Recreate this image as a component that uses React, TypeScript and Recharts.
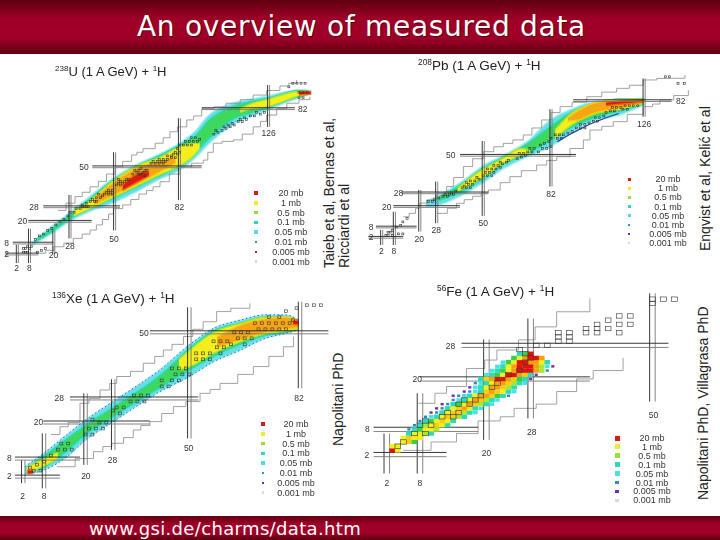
import { Area, ComposedChart, Line, ReferenceDot, ReferenceLine, Scatter, XAxis, YAxis } from 'recharts';

const COLORS = {
  cyan: '#63dfe6',
  green: '#3ed85e',
  lime: '#b8e63a',
  yellow: '#f4ee1c',
  orange: '#f5a612',
  red: '#dd1a12',
};
// soft rim drawn around each band so the colours fade into one another
const RIMS: Record<string, string> = {
  [COLORS.cyan]: '#a6eef0',
  [COLORS.green]: '#2ed8a8',
  [COLORS.yellow]: '#a8e63a',
  [COLORS.orange]: '#f8cc10',
  [COLORS.red]: '#ee6a10',
};

const LEGEND_LABELS = ['20 mb', '1 mb', '0.5 mb', '0.1 mb', '0.05 mb', '0.01 mb', '0.005 mb', '0.001 mb'];
const LEGEND_COLORS = ['#d81c14', '#e6ee30', '#9adf3c', '#2fd6c0', '#50dce8', '#2f8fc0', '#6a2fb0', '#d8d8d8'];

// band rows are [N, Z low, Z high]
const U_CYAN = [[9, 6.5, 8], [18, 12.5, 16.5], [28, 20, 25], [38, 25.5, 34], [49, 30, 43.5], [62, 37, 52], [72, 43, 57], [82, 48, 63], [90, 55, 70], [96, 62, 78], [108, 73, 85], [118, 78, 87.5], [125, 81, 89], [135, 85.5, 91.5], [141, 88, 92.5], [147, 90, 92]];
const U_GREEN = [[12, 9.5, 10.5], [20, 15, 16.5], [28, 21.5, 23.5], [38, 27, 32.5], [49, 32.5, 42.5], [62, 39.5, 51], [72, 45, 56], [82, 50.5, 62], [90, 58, 67], [96, 65, 75], [108, 76, 83], [118, 80, 86], [125, 82.5, 87.5], [141, 88.5, 92], [146, 90, 91.5]];
const U_YELLOW = [[30, 23, 26], [35, 25.5, 29], [49, 33, 42], [62, 40, 51], [72, 45.5, 55], [82, 50.5, 61], [88, 55, 63], [92, 60, 63]];
const U_YELLOW_2 = [[112, 80, 82], [118, 82, 85], [125, 83, 87], [141, 89, 91.5], [146, 90, 91.5]];
const U_ORANGE = [[40, 29, 33], [49, 34, 41], [62, 41, 50], [72, 47, 53], [80, 52, 56]];
const U_RED = [[54, 37, 40], [58, 39.5, 44], [62, 42, 46.5], [67, 45, 47.5]];
const U_RED_2 = [[141, 89.5, 91.5], [147, 90, 91.5]];
const U_UPPER = [[22, 26], [26, 30], [30.5, 33.6], [34, 36], [37.9, 39], [42, 42], [46, 46], [50.2, 50], [54, 53], [58.4, 56.5], [61, 58], [64, 60], [70, 63], [74, 66], [77.3, 69.3], [81, 72], [85.6, 75.8], [89, 78], [93, 82], [99, 83], [105, 85], [112, 87], [118.4, 89.5], [125, 92], [131.6, 94.5], [136, 96], [139.8, 97.8]];
const U_LOWER = [[11.5, 2.4], [16, 4], [20, 6], [25, 8], [29.6, 10.6], [34, 13], [37.9, 15.2], [41, 18], [44, 21], [47, 24], [49.4, 27], [54, 29], [58, 32], [62, 35], [65.8, 37], [69, 39], [72.4, 41.8], [77, 46], [82.3, 50], [88, 52], [93.8, 53.7], [96, 58], [98.7, 63], [103, 64], [108.6, 64.8], [113, 68], [118.4, 72], [122, 75], [125, 78.5], [130, 82], [135, 85], [141, 87], [146.4, 88.6]];
const U_HOLLOW = [[5, 3], [6, 3], [7, 3], [5, 5], [6, 5], [8, 5], [7, 6], [9, 6], [12, 3], [14, 4], [16, 5], [11, 10], [13, 12], [15, 13], [17, 15], [19, 16], [21, 18], [23, 20], [25, 21], [27, 23], [28, 25], [30, 25], [31, 27], [33, 27], [34, 28], [35, 28], [36, 28], [37, 28], [34, 29], [36, 30], [38, 31], [40, 31], [41, 31], [39, 32], [41, 33], [43, 33], [44, 34], [42, 35], [45, 35], [47, 35], [46, 36], [48, 36], [47, 37], [49, 37], [49, 35], [51, 40], [53, 40], [52, 41], [54, 41], [53, 42], [55, 42], [56, 43], [57, 43], [52, 43], [59, 46], [61, 47], [62, 46], [63, 46], [64, 47], [60, 48], [62, 48], [65, 48], [66, 48], [63, 49], [65, 45], [68, 52], [70, 52], [72, 52], [74, 52], [69, 53], [71, 53], [73, 53], [75, 53], [72, 54], [74, 54], [76, 54], [78, 55], [76, 56], [78, 56], [80, 55], [79, 57], [81, 57], [80, 58], [82, 58], [81, 60], [82, 62], [84, 62], [86, 62], [88, 62], [85, 64], [87, 64], [89, 64], [91, 64], [92, 65], [90, 66], [88, 66], [99, 68], [101, 69], [100, 70], [103, 70], [105, 71], [104, 72], [107, 72], [106, 73], [109, 73], [108, 74], [111, 75], [113, 75], [112, 76], [115, 76], [114, 77], [117, 78], [119, 78], [122, 79], [124, 80], [120, 80], [138, 96], [140, 96], [142, 96], [144, 96], [136, 94], [141, 91], [143, 91], [145, 91], [141, 88], [143, 88]];
const U_MAGIC_N = [[2, -3, 7], [8, -3, 16], [20, 2, 15], [28, 10.6, 34.5], [50, 15, 58], [82, 31.7, 76.7], [126, 72, 95]];
const U_MAGIC_Z = [[2, -4, 12.4], [8, -0.3, 19.8], [20, 7.4, 38.7], [28, 14.8, 52.7], [50, 39, 93], [82, 93, 139]];
const U_LABELS: [number, number, string][] = [[142.8, 82, '82'], [126, 68.4, '126'], [82, 27.7, '82'], [34.9, 50, '50'], [49.7, 10.4, '50'], [10.2, 28, '28'], [28, 6.4, '28'], [4.6, 20.2, '20'], [19.8, 1.4, '20'], [-3.3, 7.9, '8'], [-3.3, 2, '2'], [1.7, -5.5, '2'], [7.9, -5.5, '8']];

const PB_CYAN = [[23, 20, 23], [29.6, 21, 27], [39, 26, 34], [50, 34, 44], [59.5, 42, 50], [70.5, 49, 58], [82, 55, 71], [92.5, 64, 77.5], [102, 70, 81.5], [114.6, 73.6, 83], [126, 79.5, 83.5]];
const PB_GREEN = [[29, 23.5, 25.5], [39, 28.5, 32.5], [50, 36.5, 42.5], [59, 44.5, 48.5], [70, 50.5, 56], [82, 59, 67], [92, 66.5, 75.5], [102, 72, 80], [115, 76, 83], [126, 80, 83]];
const PB_YELLOW = [[38, 29, 31], [50, 37, 42], [59, 45, 48], [68, 50, 54], [72, 51.5, 53]];
const PB_YELLOW_2 = [[84, 60, 65], [92, 68, 75], [102, 74, 80], [115, 77, 82.5], [126, 80.5, 83]];
const PB_ORANGE = [[90, 70, 72], [96, 71, 77], [102, 74.5, 80.5], [115, 77.5, 82.5], [126, 81, 82.5]];
const PB_RED = [[108, 79, 81], [116, 80, 82], [126, 81, 82.5]];
const PB_EDGE = [[85, 58], [92, 63], [100, 68], [108, 72], [114, 74.5]];
const PB_UPPER = [[12.2, 14], [15, 16], [18, 19], [20, 22], [23.3, 23.9], [28, 28], [32.7, 31.7], [36, 37], [40.6, 43.4], [45, 48], [50, 52.1], [55, 55], [59.5, 57], [64, 59], [68.9, 61.9], [73, 66], [77.6, 70.7], [82, 75], [86.3, 78.5], [92, 81], [98.9, 84.3], [106, 87], [113, 89.2], [119, 91], [125.6, 94.1], [132, 95], [138.2, 95.1], [145.3, 97]];
const PB_LOWER = [[28, 16], [33, 19], [37.4, 21.9], [41, 24], [45, 26], [49, 28], [52.4, 29.7], [58, 34], [62.6, 37.5], [68, 41], [75.2, 44.3], [80, 47], [84.7, 49.2], [91, 54], [97.3, 59], [100.4, 64.8], [106, 67], [111.4, 69.7], [118, 74], [125.6, 78.5], [130, 80], [133.5, 82.4], [140, 85], [146.9, 88.2]];
const PB_HOLLOW = [[4, 3], [5, 3], [7, 3], [5, 5], [6, 5], [7, 6], [9, 8], [11, 9], [12, 11], [10, 4], [12, 4], [14, 13], [24, 23], [26, 23], [27, 24], [29, 25], [31, 26], [33, 26], [32, 27], [34, 27], [36, 27], [35, 28], [37, 29], [40, 31], [42, 31], [44, 31], [41, 32], [43, 33], [45, 33], [42, 34], [44, 35], [46, 35], [48, 36], [47, 37], [50, 38], [52, 38], [54, 38], [51, 40], [53, 40], [55, 40], [52, 42], [54, 42], [56, 42], [58, 43], [55, 44], [57, 44], [59, 45], [61, 46], [58, 46], [62, 47], [66, 48], [68, 49], [70, 50], [67, 51], [69, 51], [71, 52], [73, 52], [72, 54], [74, 54], [76, 52], [78, 54], [80, 54], [82, 55], [77, 56], [79, 57], [81, 58], [82, 60], [84, 62], [86, 62], [88, 62], [90, 63], [92, 64], [85, 60], [87, 60], [94, 66], [96, 66], [98, 66], [96, 68], [98, 68], [100, 69], [102, 70], [104, 70], [103, 72], [105, 72], [107, 73], [108, 75], [110, 76], [112, 76], [111, 78], [113, 78], [115, 78], [117, 79], [119, 79], [121, 79], [123, 79], [116, 77], [118, 77], [136, 96], [138, 96], [142, 92], [145, 92]];
const PB_MAGIC_N = [[2, -2.5, 6.3], [8, -2.5, 17], [20, 5.3, 29.7], [28, 10.2, 34.6], [50, 14.5, 58.4], [82, 31.7, 77], [126, 72.6, 95]];
const PB_MAGIC_Z = [[2, -4.3, 12.2], [8, -0.7, 18.5], [20, 7.5, 39], [28, 11.4, 52.4], [50, 39, 93.8], [82, 92.5, 139]];
const PB_LABELS: [number, number, string][] = [[143.3, 82, '82'], [126, 68.3, '126'], [82, 27.4, '82'], [34.6, 50, '50'], [50, 10.6, '50'], [10, 28.1, '28'], [27.8, 6.3, '28'], [4.4, 20, '20'], [19.8, 1.2, '20'], [-3, 7.9, '8'], [-3, 2, '2'], [1.8, -5.8, '2'], [7.8, -5.8, '8']];

const XE_CYAN = [[2.5, 2.9, 5.3], [8, 4.2, 9.8], [14.6, 8.6, 15.9], [20, 14.2, 20.8], [28, 20.3, 27], [33.8, 24.7, 31.4], [41.5, 30.3, 37.5], [50, 35.3, 45.8], [57, 40.2, 51.3], [64.6, 44, 54], [72, 48, 55.8], [78, 49.7, 55.8], [81.5, 50.8, 54]];
const XE_GREEN = [[5, 4, 6.5], [8, 5.2, 8.8], [14, 10, 14], [20, 16, 19], [28, 22, 25], [42, 32, 36], [50, 37.5, 44.5], [57, 42, 50.5], [64.6, 46, 53], [72, 49, 55], [78, 50, 55], [81.5, 51, 54]];
const XE_YELLOW = [[3, 3.2, 5], [8, 5.5, 8], [12, 8, 10]];
const XE_YELLOW_2 = [[47, 37.5, 41], [50, 38.5, 44], [57, 43, 50], [65, 47, 53], [72, 49.5, 55], [78, 50.5, 55], [81.5, 51, 54]];
const XE_ORANGE = [[58, 45, 48.5], [65, 47.5, 52.5], [72, 50, 54.5], [78, 51, 55], [81.5, 51.5, 54]];
const XE_RED = [[80, 52.5, 54], [81.5, 52.5, 54]];
const XE_RED_2 = [[3.2, 3, 4.2], [4.8, 3, 4.2]];
const XE_UPPER = [[10, 16], [12.6, 18.6], [15, 20], [18.4, 26.4], [21, 28], [24.2, 30.8], [27, 33], [29, 35.3], [33, 37], [36.7, 39.7], [40, 42], [42.5, 44.1], [45, 46], [48.3, 48.6], [51, 51], [54, 53.5], [57.9, 56.9], [62, 58], [67.5, 59.6]];
const XE_LOWER = [[11.7, 5.3], [17, 8], [22.3, 10.3], [25, 12], [27.6, 13.1], [31, 15], [33.8, 17.5], [36, 19], [38.6, 20.3], [42, 23], [45.4, 25.3], [49, 27], [53.1, 29.7], [56, 31], [58.9, 33], [64, 36], [68.5, 38.6], [73, 42], [77.2, 45.2], [80.1, 48.6]];
const XE_HOLLOW = [[78, 57], [81, 58], [84, 59], [86, 59], [88, 59], [69, 53], [71, 53], [73, 53], [75, 53], [77, 53], [79, 53], [70, 51], [72, 51], [74, 51], [76, 51], [78, 51], [80, 54], [73, 55], [76, 55], [63, 50], [65, 50], [67, 50], [64, 48], [66, 48], [68, 48], [62, 46], [66, 46], [57, 47], [59, 47], [61, 47], [58, 45], [60, 45], [59, 43], [56, 43], [52, 43], [54, 43], [52, 41], [54, 41], [56, 41], [45, 38], [47, 38], [49, 38], [46, 36], [48, 36], [50, 36], [45, 34], [47, 34], [42, 34], [44, 32], [42, 32], [34, 29], [36, 29], [38, 29], [35, 27], [37, 27], [33, 27], [31, 25], [29, 25], [30, 23], [28, 24], [22, 21], [24, 20], [26, 20], [21, 18], [23, 18], [25, 18], [20, 16], [22, 16], [13, 13], [15, 13], [12, 11], [14, 11], [16, 11], [10, 9], [8, 7], [6, 6], [5, 4], [7, 4], [4, 5]];
const XE_MAGIC_N = [[2, -0.2, 7.5], [8, -1.9, 16.4], [20, 5.9, 29.7], [28, 10.9, 34.4], [50, 14.7, 58.3], [82, 31.4, 60.2]];
const XE_MAGIC_Z = [[2, -0.4, 12.6], [8, -0.4, 18.4], [20, 7.8, 38.6], [28, 15.5, 52.6], [50, 38.6, 90.2]];
const XE_LABELS: [number, number, string][] = [[81.7, 28, '82'], [49.8, 11.4, '50'], [36.9, 49.9, '50'], [12.4, 28, '28'], [27.8, 7.5, '28'], [6.4, 20.1, '20'], [20.1, 2.3, '20'], [-2, 8.3, '8'], [-2, 2.2, '2'], [1.8, -4.4, '2'], [8, -4.4, '8']];

// Fe cells: one string per Z row, first letter sits at the row's start N
const FE_ROW_Z = [3, 4, 5, 6, 7, 8, 9, 10, 11, 12, 13, 14, 15, 16, 17, 18, 19, 20, 21, 22, 23, 24, 25, 26];
const FE_ROW_START = [3, 3, 5, 5, 6, 6, 7, 8, 9, 10, 11, 12, 14, 14, 16, 17, 18, 19, 20, 21, 22, 23, 25, 26];
const FE_ROW_CELLS = ['RY', 'YY', 'YAG', 'YAYY', 'TYYLT', 'BTGYYL', 'BTLYAYT', 'BTGYAYT', 'BCTYAALT', 'PBTYAALTC', 'PBTYAOYTC', 'PBTGYOALTC', 'BCTYOALTC', 'PBCTYOOAGTB', 'PBCTAOAYTC', 'PCTYOOALT', 'BCTYOOALTC', 'TAORROAGTP', 'CTGYRROATP', 'CTGYORRROLB', 'CTYORRROLCP', 'CGYRROOYT', 'GYORRO', 'TGR'];
const FE_CELL_COLORS: Record<string, string> = {
  R: '#e01208',
  O: '#f6a010',
  A: '#f8cc10',
  Y: '#f0f020',
  L: '#a8e830',
  G: '#38d048',
  T: '#2cdcb8',
  C: '#48e0ee',
  B: '#2c86c8',
  P: '#7030b0',
};
const FE_UPPER = [[7.7, 14.2], [10.7, 16.6], [12.8, 18.2], [16.4, 22.5], [19.7, 24.5], [21.9, 26.9], [25.8, 29.3], [28.8, 32.4], [32.7, 36], [38.7, 39.2]];
const FE_LOWER = [[5, 3], [10, 5], [14.6, 7], [18.5, 10], [22.5, 11], [25, 13], [29, 14], [32.7, 17], [36.3, 20], [39.3, 22], [44.7, 25]];
const FE_HOLLOW = [[33, 29], [33, 30], [33, 31], [35, 29], [35, 30], [35, 31], [38, 31], [38, 32], [40, 31], [40, 32], [40, 33], [42, 32], [42, 34], [44, 31], [44, 33], [44, 35], [46, 33], [46, 35], [50, 38], [50, 39], [52, 39], [54, 39], [29, 28], [31, 28], [26, 27], [27, 26], [4, 4], [5, 5], [7, 7], [9, 7], [8, 9], [10, 9], [9, 10], [12, 11], [14, 11], [13, 12], [15, 12], [15, 14], [17, 14], [16, 15], [18, 15], [19, 16], [21, 18], [22, 19], [24, 21], [26, 22], [27, 24], [28, 25]];
const FE_MAGIC_N = [[2, -2.5, 7], [8, -2.5, 16.6], [20, 5.5, 29.4], [28, 10.6, 34.4], [50, 14.6, 40.4]];
const FE_MAGIC_Z = [[2, -0.4, 12.8], [8, -0.4, 18.5], [20, 8, 38.7], [28, 15.5, 52.9]];
const FE_LABELS: [number, number, string][] = [[13.5, 27.8, '28'], [7.5, 19.9, '20'], [-1.5, 8, '8'], [-1.6, 1.9, '2'], [2, -4.7, '2'], [8, -4.7, '8'], [20, 2.4, '20'], [28.2, 7.4, '28'], [50.2, 11.4, '50']];

const FE_CELLS = FE_ROW_Z.flatMap((z, r) =>
  FE_ROW_CELLS[r].split('').map((code, i) => ({ n: FE_ROW_START[r] + i, z, code }))
);

const toPoints = (rows: number[][]) => rows.map(([n, z]) => ({ n, z }));
const toBand = (rows: number[][]) => rows.map(([n, lo, hi]) => ({ n, range: [lo, hi] }));

type PanelProps = {
  left: number;
  top: number;
  width: number;
  height: number;
  nDomain: [number, number];
  zDomain: [number, number];
  bands: [number[][], string][];
  upper: number[][];
  lower: number[][];
  hollow: number[][];
  magicN: number[][];
  magicZ: number[][];
  labels: [number, number, string][];
  cell: [number, number];
  edge?: number[][];
  cells?: boolean;
  dotted?: number[][];
};

const Panel = ({ left, top, width, height, nDomain, zDomain, bands, upper, lower, hollow, magicN, magicZ, labels, cell, edge, cells, dotted }: PanelProps) => {
  const hollowShape = (p: any) => (
    <rect x={p.cx - cell[0] / 2} y={p.cy - cell[1] / 2} width={cell[0]} height={cell[1]} fill="none" stroke="#333" strokeWidth={0.6} />
  );
  const cellShape = (p: any) => {
    const code = p.payload.code;
    // the rarest cells are drawn smaller in the original
    const k = code === 'B' || code === 'P' ? 0.55 : code === 'C' ? 0.8 : 1;
    return <rect x={p.cx - (cell[0] * k) / 2} y={p.cy - (cell[1] * k) / 2} width={cell[0] * k} height={cell[1] * k} fill={FE_CELL_COLORS[code]} />;
  };
  return (
    <div style={{ position: 'absolute', left, top, filter: 'blur(0.45px)' }}>
      <ComposedChart width={width} height={height} margin={{ top: 0, right: 0, bottom: 0, left: 0 }}>
        <XAxis type="number" dataKey="n" domain={nDomain} hide allowDataOverflow />
        <YAxis type="number" dataKey="z" domain={zDomain} hide allowDataOverflow />
        {bands.map(([rows, color], i) => (
          <Area key={i} data={toBand(rows)} dataKey="range" type="monotone" stroke={RIMS[color]} strokeWidth={1.4} fill={color} fillOpacity={1} dot={false} activeDot={false} isAnimationActive={false} />
        ))}
        {dotted && <Area data={toBand(dotted)} dataKey="range" type="monotone" stroke="#2a62d0" strokeWidth={1} strokeDasharray="1.5 2.5" fill="none" dot={false} activeDot={false} isAnimationActive={false} />}
        {edge && <Line data={toPoints(edge)} dataKey="z" type="linear" stroke="#1c3fb0" strokeWidth={1.2} dot={false} isAnimationActive={false} />}
        {cells && <Scatter data={FE_CELLS} shape={cellShape} isAnimationActive={false} />}
        <Line data={toPoints(upper)} dataKey="z" type="stepAfter" stroke="#8a8a8a" strokeWidth={0.8} dot={false} isAnimationActive={false} />
        <Line data={toPoints(lower)} dataKey="z" type="stepAfter" stroke="#8a8a8a" strokeWidth={0.8} dot={false} isAnimationActive={false} />
        <Scatter data={toPoints(hollow)} shape={hollowShape} isAnimationActive={false} />
        {magicN.flatMap(([n, lo, hi]) => [
          <ReferenceLine key={`n${n}a`} segment={[{ x: n - 0.5, y: lo }, { x: n - 0.5, y: hi }]} stroke="#222" strokeWidth={0.9} />,
          <ReferenceLine key={`n${n}b`} segment={[{ x: n + 0.5, y: lo }, { x: n + 0.5, y: hi }]} stroke="#777" strokeWidth={0.9} />,
        ])}
        {magicZ.flatMap(([z, lo, hi]) => [
          <ReferenceLine key={`z${z}a`} segment={[{ x: lo, y: z + 0.5 }, { x: hi, y: z + 0.5 }]} stroke="#222" strokeWidth={0.9} />,
          <ReferenceLine key={`z${z}b`} segment={[{ x: lo, y: z - 0.5 }, { x: hi, y: z - 0.5 }]} stroke="#777" strokeWidth={0.9} />,
        ])}
        {labels.map(([n, z, text], i) => (
          <ReferenceDot key={i} x={n} y={z} r={0} stroke="none" label={{ value: text, position: 'center', fontSize: 8.5, fill: '#333', fontFamily: 'Liberation Sans' }} />
        ))}
      </ComposedChart>
    </div>
  );
};

const Legend = ({ markX, textX, top, step, mark }: { markX: number; textX: number; top: number; step: number; mark: number }) => (
  <>
    {LEGEND_LABELS.map((label, i) => {
      const size = i > 4 ? mark * 0.7 : mark;
      return (
        <div key={label} style={{ filter: 'blur(0.3px)' }}>
          <div style={{ position: 'absolute', left: markX - size / 2, top: top + i * step - size / 2, width: size, height: size, background: LEGEND_COLORS[i] }} />
          <div style={{ position: 'absolute', left: textX - 40, width: 80, top: top + i * step - 6, height: 12, lineHeight: '12px', textAlign: 'center', fontSize: 9, color: '#333' }}>{label}</div>
        </div>
      );
    })}
  </>
);

const Reaction = ({ left, top, mass, name, size }: { left: number; top: number; mass: string; name: string; size: number }) => (
  <div style={{ position: 'absolute', left, top, fontSize: size, lineHeight: '14px', color: '#222', whiteSpace: 'nowrap', filter: 'blur(0.3px)' }}>
    <sup style={{ fontSize: size * 0.62, lineHeight: 0 }}>{mass}</sup>{name} (1 A GeV) + <sup style={{ fontSize: size * 0.62, lineHeight: 0 }}>1</sup>H
  </div>
);

const SideNote = ({ x, bottom, lines }: { x: number; bottom: number; lines: string[] }) => (
  <div style={{ position: 'absolute', left: x, top: bottom, transform: 'rotate(-90deg)', transformOrigin: '0 0', fontSize: 14, lineHeight: '15px', color: '#222', whiteSpace: 'nowrap' }}>
    {lines.map(line => <div key={line}>{line}</div>)}
  </div>
);

const BAR = 'linear-gradient(180deg, #5e0010 0%, #a00028 35%, #a00028 70%, #5e0010 100%)';

export default function App() {
  return (
    <div style={{ position: 'absolute', left: 0, top: 0, width: 720, height: 540, overflow: 'hidden', background: '#fff', fontFamily: '"Liberation Sans", sans-serif' }}>
      <div style={{ position: 'absolute', left: 0, top: 0, width: 720, height: 54, background: BAR }} />
      <div style={{ position: 'absolute', left: 0, top: 516, width: 720, height: 24, background: BAR }} />
      <div style={{ position: 'absolute', left: 137, top: 9, fontFamily: '"DejaVu Sans", sans-serif', fontSize: 28, lineHeight: '36px', letterSpacing: 0.7, color: '#fff', textShadow: '1px 1px 1px #50000c', whiteSpace: 'nowrap' }}>An overview of measured data</div>
      <div style={{ position: 'absolute', left: 89, top: 516, fontFamily: '"DejaVu Sans", sans-serif', fontSize: 18, lineHeight: '26px', letterSpacing: 0.35, color: '#fff', whiteSpace: 'nowrap' }}>www.gsi.de/charms/data.htm</div>

      <Panel left={0} top={60} width={330} height={212} nDomain={[-6.55, 156.3]} zDomain={[-7.9, 108.8]} cell={[2, 1.8]}
        bands={[[U_CYAN, COLORS.cyan], [U_GREEN, COLORS.green], [U_YELLOW, COLORS.yellow], [U_YELLOW_2, COLORS.yellow], [U_ORANGE, COLORS.orange], [U_RED, COLORS.red], [U_RED_2, COLORS.red]]}
        upper={U_UPPER} lower={U_LOWER} hollow={U_HOLLOW} magicN={U_MAGIC_N} magicZ={U_MAGIC_Z} labels={U_LABELS} />
      <Panel left={360} top={60} width={340} height={200} nDomain={[-8.24, 152.4]} zDomain={[-11.3, 105.8]} cell={[2, 1.8]} edge={PB_EDGE}
        bands={[[PB_CYAN, COLORS.cyan], [PB_GREEN, COLORS.green], [PB_YELLOW, COLORS.yellow], [PB_YELLOW_2, COLORS.yellow], [PB_ORANGE, COLORS.orange], [PB_RED, COLORS.red]]}
        upper={PB_UPPER} lower={PB_LOWER} hollow={PB_HOLLOW} magicN={PB_MAGIC_N} magicZ={PB_MAGIC_Z} labels={PB_LABELS} />
      <Panel left={0} top={280} width={340} height={230} nDomain={[-4.72, 93.55]} zDomain={[-9.1, 67.4]} cell={[3, 2.8]} dotted={XE_CYAN}
        bands={[[XE_CYAN, COLORS.cyan], [XE_GREEN, COLORS.green], [XE_YELLOW, COLORS.yellow], [XE_YELLOW_2, COLORS.yellow], [XE_ORANGE, COLORS.orange], [XE_RED, COLORS.red], [XE_RED_2, COLORS.red]]}
        upper={XE_UPPER} lower={XE_LOWER} hollow={XE_HOLLOW} magicN={XE_MAGIC_N} magicZ={XE_MAGIC_Z} labels={XE_LABELS} />
      <Panel left={360} top={275} width={340} height={235} nDomain={[-2.84, 58.6]} zDomain={[-11.2, 44.75]} cell={[5.7, 4.4]} cells
        bands={[]} upper={FE_UPPER} lower={FE_LOWER} hollow={FE_HOLLOW} magicN={FE_MAGIC_N} magicZ={FE_MAGIC_Z} labels={FE_LABELS} />

      <Legend markX={256} textX={291} top={193} step={9.8} mark={3.5} />
      <Legend markX={629} textX={668} top={179} step={9.2} mark={3} />
      <Legend markX={263} textX={296} top={424} step={9.8} mark={3.5} />
      <Legend markX={617} textX={652} top={438} step={8.9} mark={5} />

      <Reaction left={55} top={65} mass="238" name="U" size={13} />
      <Reaction left={418} top={59} mass="208" name="Pb" size={13.5} />
      <Reaction left={52} top={292} mass="136" name="Xe" size={13.5} />
      <Reaction left={437} top={285} mass="56" name="Fe" size={13.5} />

      <SideNote x={322} bottom={268} lines={['Taieb et al, Bernas et al,', 'Ricciardi et al']} />
      <SideNote x={698} bottom={251} lines={['Enqvist et al, Kelić et al']} />
      <SideNote x={331} bottom={446} lines={['Napolitani PhD']} />
      <SideNote x={696} bottom={500} lines={['Napolitani PhD, Villagrasa PhD']} />
    </div>
  );
}
